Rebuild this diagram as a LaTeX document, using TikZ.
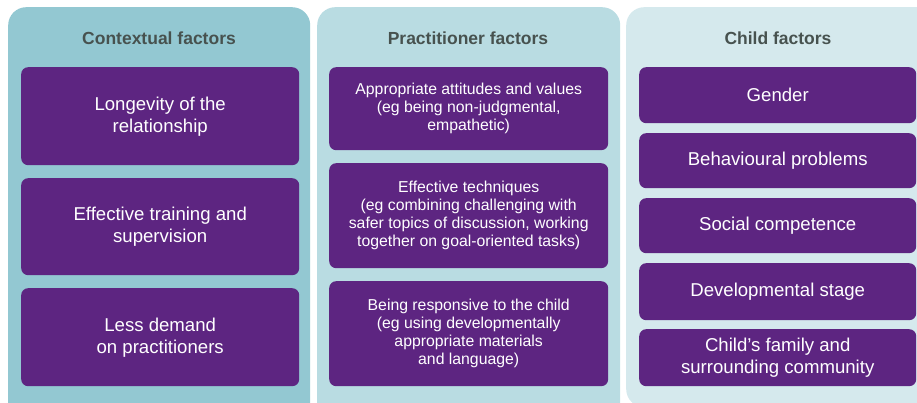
\documentclass[tikz,border=0pt]{standalone}
\usepackage{fontspec}
\setmainfont{Liberation Sans}
\usetikzlibrary{positioning}
\definecolor{contextbg}{HTML}{93C8D2}
\definecolor{practbg}{HTML}{B9DCE2}
\definecolor{childbg}{HTML}{D5E9ED}
\definecolor{factorpurple}{HTML}{5D2581}
\definecolor{headgrey}{HTML}{47524F}

\begin{document}
\begin{tikzpicture}[x=1pt,y=-1pt,
        column/.style={rectangle,rounded corners=18pt,anchor=north west,inner sep=0pt},
        heading/.style={font=\bfseries\fontsize{17.5}{20}\selectfont,text=headgrey},
        factor/.style={rectangle,rounded corners=7pt,fill=factorpurple,text=white,align=center,anchor=north west,inner sep=0pt,font=\fontsize{18.6}{22}\selectfont},
        smallfactor/.style={factor,font=\fontsize{15.8}{18}\selectfont}
    ]
    \useasboundingbox (0,0) rectangle (917,403);
    \clip (0,0) rectangle (917,403);

    % backgrounds
    \node[column,fill=contextbg,minimum width=302pt,minimum height=420pt] (context) at (8,7) {};
    \node[column,fill=practbg,minimum width=303pt,minimum height=420pt] (practitioner) at (317,7) {};
    \node[column,fill=childbg,minimum width=320pt,minimum height=400pt] (child) at (626,7) {};

    % headings
    \node[heading] (contexthead) at (159,38) {Contextual factors};
    \node[heading] (practhead) at (468,38) {Practitioner factors};
    \node[heading] (childhead) at (778,38) {Child factors};

    % contextual factors
    \node[factor,minimum width=278pt,minimum height=98pt] (longevity) at (21,67) {Longevity of the\\relationship};
    \node[factor,minimum width=278pt,minimum height=97pt] (training) at (21,178) {Effective training and\\supervision};
    \node[factor,minimum width=278pt,minimum height=98pt] (demand) at (21,288) {Less demand\\on practitioners};

    % practitioner factors
    \node[smallfactor,minimum width=279pt,minimum height=83pt] (attitudes) at (329,67) {Appropriate attitudes and values\\(eg being non-judgmental,\\empathetic)};
    \node[smallfactor,minimum width=279pt,minimum height=105pt] (techniques) at (329,163) {Effective techniques\\(eg combining challenging with\\safer topics of discussion, working\\together on goal-oriented tasks)};
    \node[smallfactor,minimum width=279pt,minimum height=105pt] (responsive) at (329,281) {Being responsive to the child\\(eg using developmentally\\appropriate materials\\and language)};

    % child factors
    \node[factor,minimum width=277pt,minimum height=56pt] (gender) at (639,67) {Gender};
    \node[factor,minimum width=277pt,minimum height=55pt] (behaviour) at (639,133) {Behavioural problems};
    \node[factor,minimum width=277pt,minimum height=55pt] (social) at (639,198) {Social competence};
    \node[factor,minimum width=277pt,minimum height=57pt] (stage) at (639,263) {Developmental stage};
    \node[factor,minimum width=277pt,minimum height=57pt] (family) at (639,329) {Child’s family and\\surrounding community};
\end{tikzpicture}
\end{document}
